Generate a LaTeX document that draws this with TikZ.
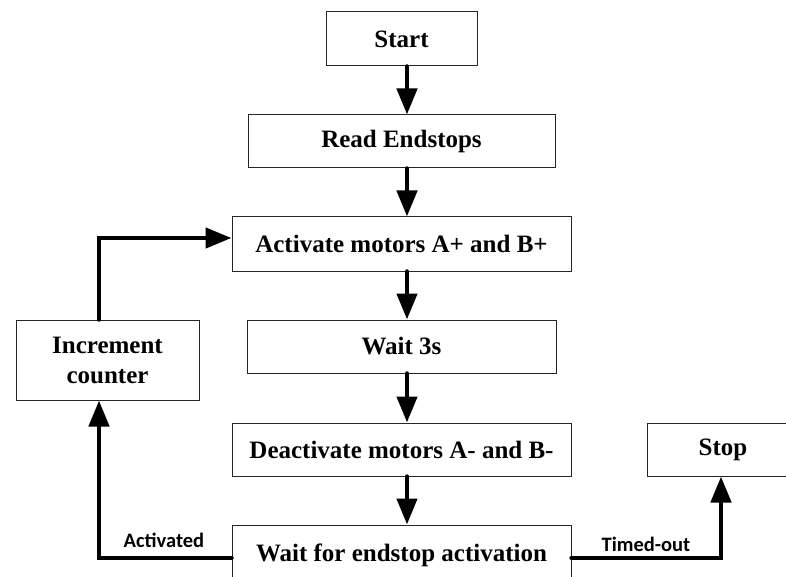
\documentclass[tikz,border=0pt]{standalone}
\usepackage{fontspec}
\setmainfont{Liberation Serif}
\newfontfamily\lblfont{Carlito}
\usetikzlibrary{arrows.meta}
\begin{document}
\begin{tikzpicture}[x=1pt,y=-1pt,
  box/.style={draw=black!85, line width=1pt, fill=white, inner sep=0pt, align=center,
    font=\fontsize{25}{30}\selectfont\bfseries},
  conn/.style={line width=4.5pt, line cap=round, -{Triangle[length=26pt,width=20pt]}},
  lbl/.style={font=\fontsize{20.5}{24}\selectfont\lblfont\bfseries, inner sep=0pt}]
\useasboundingbox (0,0) rectangle (786,577);
\clip (0,0) rectangle (786,577);
\fill[white] (0,0) rectangle (786,577);
\node[box, minimum width=151pt, minimum height=54pt] (start) at (401.5,39) {Start};
\node[box, minimum width=307pt, minimum height=53pt] (read) at (401.5,141.5) {Read Endstops};
\node[box, minimum width=339pt, minimum height=54pt] (act) at (401.5,244) {Activate motors A+ and B+};
\node[box, minimum width=309pt, minimum height=53pt] (wait) at (401.5,346.5) {Wait 3s};
\node[box, minimum width=339pt, minimum height=53pt] (deact) at (401.5,449.5) {Deactivate motors A- and B-};
\node[box, minimum width=339pt, minimum height=60pt] (waitend) at (401.5,555) {Wait for endstop activation};
\node[box, minimum width=183pt, minimum height=80pt] (inc) at (107.5,360) {Increment\\counter};
\node[box, minimum width=152pt, minimum height=53pt] (stop) at (723,449.5) {Stop};
\draw[conn] ([xshift=5.5pt]start.south) -- ([xshift=5.5pt]read.north);
\draw[conn] ([xshift=5.5pt]read.south) -- ([xshift=5.5pt]act.north);
\draw[conn] ([xshift=5.5pt]act.south) -- ([xshift=5.5pt]wait.north);
\draw[conn] ([xshift=5.5pt]wait.south) -- ([xshift=5.5pt]deact.north);
\draw[conn] ([xshift=5.5pt]deact.south) -- ([xshift=5.5pt]waitend.north);
\draw[conn] ([xshift=-8.5pt]inc.north) |- ([yshift=6pt]act.west);
\draw[conn] ([yshift=-3pt]waitend.west) -| ([xshift=-8.5pt]inc.south);
\draw[conn] ([yshift=-3pt]waitend.east) -| ([xshift=-2pt]stop.south);
\node[lbl] (la) at (164,540) {Activated};
\node[lbl] (lt) at (646,544) {Timed-out};
\end{tikzpicture}
\end{document}
